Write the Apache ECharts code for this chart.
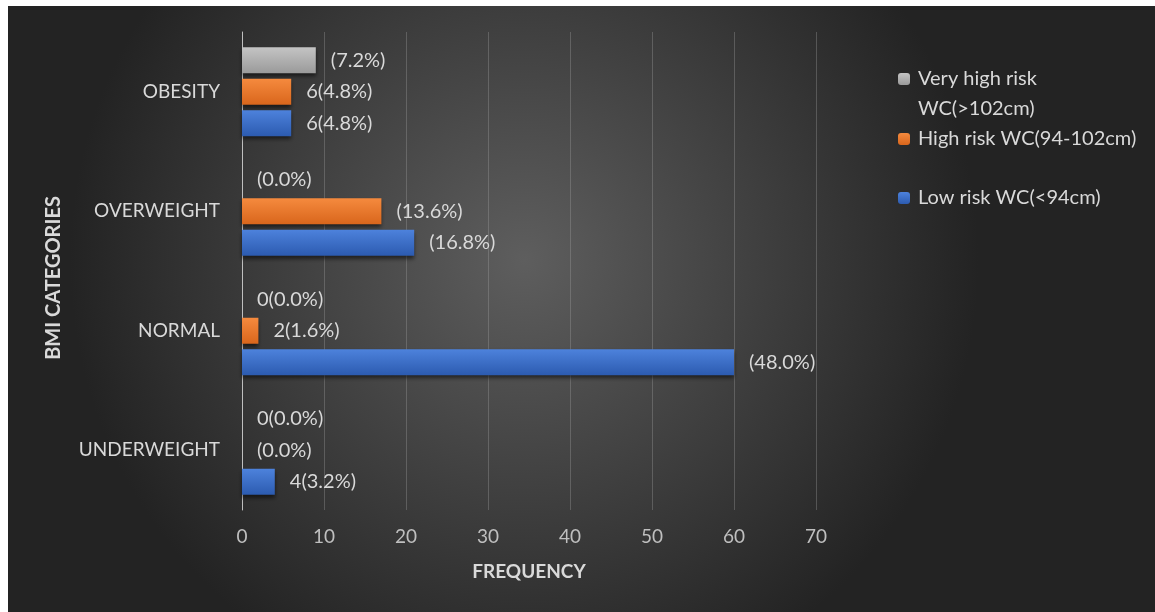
<!DOCTYPE html>
<html><head><meta charset="utf-8">
<script src="https://cdn.jsdelivr.net/npm/echarts@6/dist/echarts.min.js"></script>
<style>
html,body{margin:0;padding:0;background:#fff;width:1155px;height:612px;overflow:hidden}
#c{position:absolute;left:8px;top:6px;width:1147px;height:606px}
</style></head><body><div id="c"></div>
<script>
const categories = ['UNDERWEIGHT','NORMAL','OVERWEIGHT','OBESITY'];
const seriesNames = ['Low risk WC(<94cm)','High risk WC(94-102cm)','Very high risk WC(>102cm)'];
const lowRisk = [4, 60, 21, 6];
const highRisk = [0, 2, 17, 6];
const veryHighRisk = [0, 0, 0, 9];
const lowLabels = ['4(3.2%)','(48.0%)','(16.8%)','6(4.8%)'];
const highLabels = ['(0.0%)','2(1.6%)','(13.6%)','6(4.8%)'];
const veryHighLabels = ['0(0.0%)','0(0.0%)','(0.0%)','(7.2%)'];
const xTicks = [0,10,20,30,40,50,60,70];

const FONT = 'Lato';
function grad(top, bottom){
  return new echarts.graphic.LinearGradient(0,0,0,1,[{offset:0,color:top},{offset:1,color:bottom}]);
}
function mk(name, vals, labels, cTop, cBot){
  return {
    name, type:'bar', data: vals, barWidth:26, barGap:'21%',
    itemStyle:{color:grad(cTop,cBot), shadowBlur:4, shadowOffsetY:3, shadowColor:'rgba(0,0,0,0.55)'},
    label:{show:true, position:'right', distance:15, color:'#d9d9d9', fontFamily:FONT, fontSize:20,
      formatter:p=>labels[p.dataIndex]}
  };
}
const legTxt = {color:'#d9d9d9',fontFamily:FONT,fontSize:20,lineHeight:30,padding:[0,0,0,3]};
const chart = echarts.init(document.getElementById('c'));
chart.setOption({
  animation:false,
  backgroundColor:{type:'radial',x:0.45,y:0.42,r:0.75,colorStops:[{offset:0,color:'#5e5e5e'},{offset:1,color:'#232323'}]},
  grid:{left:234,right:339,top:26,bottom:102,containLabel:false},
  legend:[
    {data:[seriesNames[2]], orient:'vertical', left:885, top:23, itemWidth:12, itemHeight:12,
     textStyle:legTxt, formatter:n=>'\n'+n.replace(' WC','\nWC')},
    {data:[seriesNames[1]], orient:'vertical', left:885, top:113, itemWidth:12, itemHeight:12, textStyle:legTxt},
    {data:[seriesNames[0]], orient:'vertical', left:885, top:172, itemWidth:12, itemHeight:12, textStyle:legTxt}
  ],
  xAxis:{type:'value', min:0, max:70, interval:10,
    name:'FREQUENCY', nameLocation:'middle', nameGap:52,
    nameTextStyle:{color:'#d9d9d9',fontFamily:FONT,fontSize:19,fontWeight:'bold'},
    axisLine:{show:false}, axisTick:{show:false},
    axisLabel:{color:'#bfbfbf',fontFamily:FONT,fontSize:19,margin:17,formatter:v=>xTicks.includes(v)?String(v):''},
    splitLine:{show:true,lineStyle:{color:'rgba(160,160,160,0.35)',width:1}}
  },
  yAxis:{type:'category', data:categories,
    name:'BMI CATEGORIES', nameLocation:'middle', nameGap:178, nameRotate:90,
    nameTextStyle:{color:'#d9d9d9',fontFamily:FONT,fontSize:20,fontWeight:'bold',padding:[0,14,0,0]},
    axisLine:{show:true,lineStyle:{color:'#bfbfbf',width:1}}, axisTick:{show:false},
    axisLabel:{color:'#d9d9d9',fontFamily:FONT,fontSize:19,margin:22}
  },
  series:[
    mk(seriesNames[2], veryHighRisk, veryHighLabels, '#c4c4c4', '#9a9a9a'),
    mk(seriesNames[1], highRisk, highLabels, '#f58a3e', '#d9661c'),
    mk(seriesNames[0], lowRisk, lowLabels, '#4d82dc', '#2c5bb0')
  ]
});
</script></body></html>
